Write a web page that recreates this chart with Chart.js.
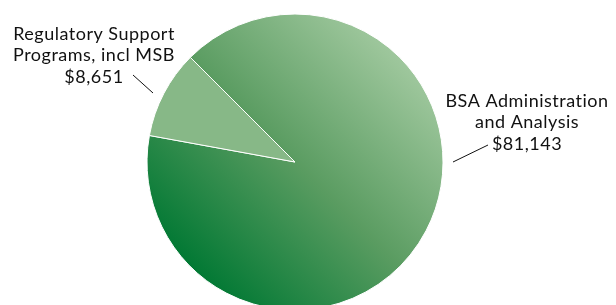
<!DOCTYPE html>
<html>
<head>
<meta charset="utf-8">
<script src="https://cdn.jsdelivr.net/npm/chart.js@4/dist/chart.umd.min.js"></script>
<style>
  html, body { margin: 0; padding: 0; background: #fff; }
  #wrap { width: 616px; height: 305px; }
</style>
</head>
<body>
<div id="wrap"><canvas id="myChart"></canvas></div>
<script>
// データ
const labels = ['BSA Administration and Analysis', 'Regulatory Support Programs, incl MSB'];
const values = [81143, 8651];
// ラベル表示用（改行ごと）
const labelLines = [
    ['BSA Administration', 'and Analysis'],
    ['Regulatory Support', 'Programs, incl MSB'],
];

const R = 148;
const FONT = '18px Lato';

function fmt(v) {
    return '$' + v.toLocaleString('en-US');
}

// グラデーション（左下が濃い緑、右上が薄い緑）
function sliceFill(ctx) {
    if (ctx.dataIndex === 1) return '#87b887';
    const ca = ctx.chart.chartArea;
    if (!ca) return '#5a9b5f';
    const cx = (ca.left + ca.right) / 2;
    const cy = (ca.top + ca.bottom) / 2;
    const d = R * 0.72;
    const g = ctx.chart.ctx.createLinearGradient(cx - d, cy + d, cx + d, cy - d);
    g.addColorStop(0, '#007833');
    g.addColorStop(0.5, '#5a9c61');
    g.addColorStop(1, '#a0c89e');
    return g;
}

// ラベルと引き出し線
const labelPlugin = {
    id: 'pieLabels',
    afterDraw(chart) {
        const arc = chart.getDatasetMeta(0).data[0];
        const cx = arc.x, cy = arc.y;
        const c = chart.ctx;
        c.save();
        c.font = FONT;
        c.letterSpacing = '0.5px';
        c.fillStyle = '#111';
        c.strokeStyle = '#111';
        c.lineWidth = 1;
        c.textAlign = 'center';
        c.textBaseline = 'middle';

        // 右側 BSA
        c.beginPath();
        c.moveTo(cx + 158, cy);
        c.lineTo(cx + 193, cy - 17);
        c.stroke();
        const l0 = labelLines[0].concat([fmt(values[0])]);
        l0.forEach((t, i) => c.fillText(t, cx + 232, cy - 61 + i * 21.5));

        // 左側 Regulatory
        c.beginPath();
        c.moveTo(cx - 142, cy - 69);
        c.lineTo(cx - 162, cy - 87);
        c.stroke();
        const l1 = labelLines[1].concat([fmt(values[1])]);
        l1.forEach((t, i) => c.fillText(t, cx - 201, cy - 128 + i * 21.5));
        c.restore();
    }
};

const data = {
    labels: labels,
    datasets: [{
        data: values,
        backgroundColor: sliceFill,
        borderColor: '#ffffff',
        borderWidth: 1,
        radius: R,
        clip: false,
    }]
};

const config = {
    type: 'pie',
    data: data,
    options: {
        responsive: true,
        maintainAspectRatio: false,
        animation: false,
        rotation: -45,
        layout: { padding: { left: 147, right: 173, top: 19, bottom: 0 } },
        plugins: {
            legend: { display: false },
            tooltip: { enabled: false },
        }
    },
    plugins: [labelPlugin]
};

const myChart = new Chart(document.getElementById('myChart'), config);
</script>
</body>
</html>
